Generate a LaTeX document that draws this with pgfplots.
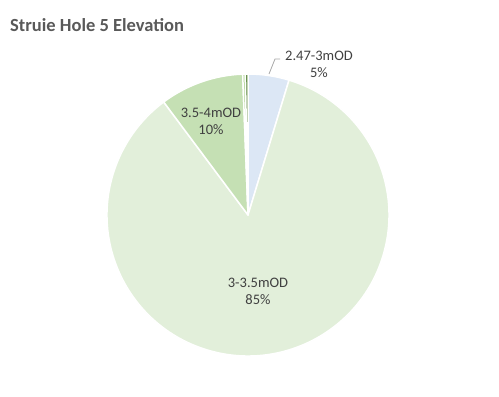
\documentclass[border=0pt]{standalone}
\usepackage{pgfplots}
\pgfplotsset{compat=1.18}
\usepackage{pgfplotstable}
\usepackage{fontspec}
\setmainfont{Carlito}
\definecolor{cA}{HTML}{DCE7F5}
\definecolor{cB}{HTML}{E2EFDA}
\definecolor{cC}{HTML}{C5E0B4}
\definecolor{cD}{HTML}{A9D18E}
\definecolor{cE}{HTML}{548235}
\definecolor{titlegray}{HTML}{595959}
\definecolor{labelgray}{HTML}{404040}
\pgfplotstableread{
label value color
2.47-3mOD 4.7 cA
3-3.5mOD 85.1 cB
3.5-4mOD 9.6 cC
4-4.5mOD 0.3 cD
4.5-5mOD 0.3 cE
}\piedata
\begin{document}
\begin{tikzpicture}
\begin{axis}[scale only axis, width=499pt, height=397pt,
  xmin=0, xmax=499, ymin=0, ymax=397, hide axis, clip=false]
\path (axis cs:0,0) rectangle (axis cs:499,397);
\pgfplotstablegetrowsof{\piedata}
\pgfmathtruncatemacro{\N}{\pgfplotsretval-1}
\gdef\cum{0}
\pgfplotsforeachungrouped \i in {0,...,\N}{
  \pgfplotstablegetelem{\i}{value}\of\piedata \let\v\pgfplotsretval
  \pgfplotstablegetelem{\i}{color}\of\piedata \let\c\pgfplotsretval
  \pgfmathsetmacro{\sa}{90-3.6*\cum}
  \pgfmathsetmacro{\ea}{90-3.6*(\cum+\v)}
  \edef\temp{\noexpand\fill[\c, draw=white, line width=1.5pt, line join=round] (axis cs:248,182) -- ++(\sa:141pt) arc[start angle=\sa, end angle=\ea, radius=141pt] -- cycle;}
  \temp
  \pgfmathsetmacro{\newcum}{\cum+\v}
  \global\let\cum\newcum
}
\draw[color=gray!70, line width=0.75pt] (axis cs:280,338) -- (axis cs:275,338) -- (axis cs:269,323);
\node[text=labelgray, font=\fontsize{14.5}{17}\selectfont, align=center] at (axis cs:319,333) {2.47-3mOD\\5\%};
\node[text=labelgray, font=\fontsize{14.5}{17}\selectfont, align=center] at (axis cs:211,275.5) {3.5-4mOD\\10\%};
\node[text=labelgray, font=\fontsize{14.5}{17}\selectfont, align=center] at (axis cs:258,105.5) {3-3.5mOD\\85\%};
\node[text=titlegray, font=\fontsize{18.5}{20}\selectfont\bfseries, anchor=base west, inner sep=0pt] at (axis cs:10,365) {Struie Hole 5 Elevation};
\end{axis}
\end{tikzpicture}
\end{document}
